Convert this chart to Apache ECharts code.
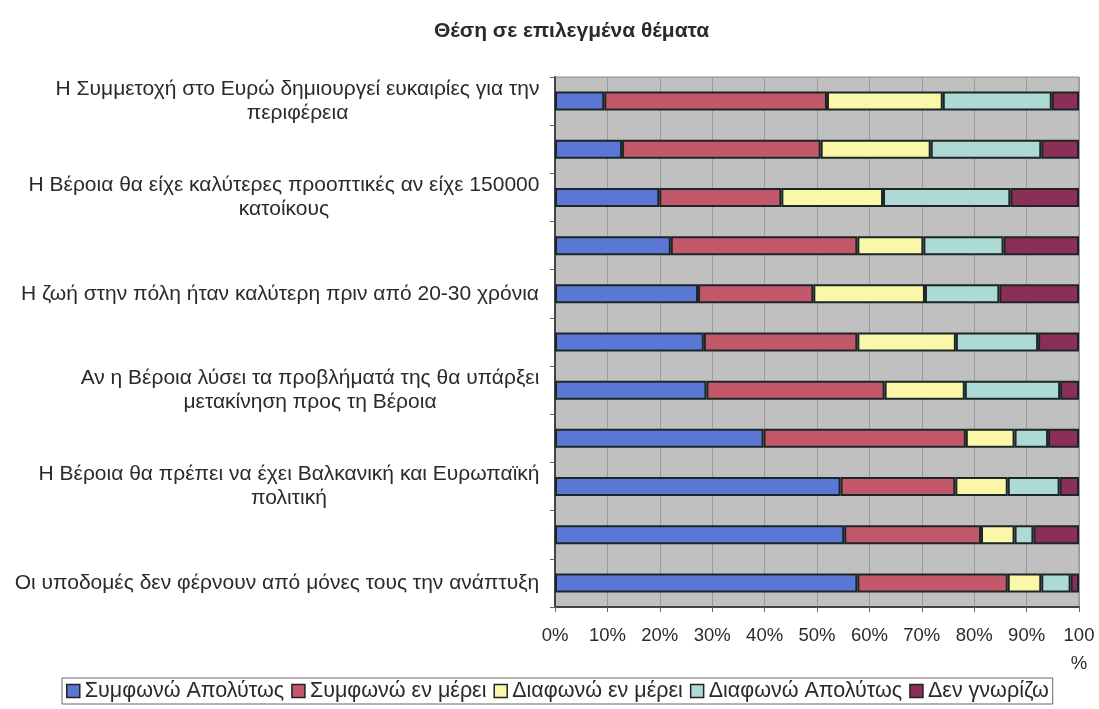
<!DOCTYPE html>
<html>
<head>
<meta charset="utf-8">
<script src="https://cdn.jsdelivr.net/npm/echarts@6/dist/echarts.min.js"></script>
<style>
  html, body { margin: 0; padding: 0; background: #fff; }
  #main { width: 1099px; height: 709px; }
</style>
</head>
<body>
<div id="main"></div>
<script>
// κατηγορίες (από πάνω προς τα κάτω) - οι μισές δεν έχουν ετικέτα στο πρωτότυπο
var categories = [
    'Η Συμμετοχή στο Ευρώ δημιουργεί ευκαιρίες για την\nπεριφέρεια',
    '',
    'Η Βέροια θα είχε καλύτερες προοπτικές αν είχε 150000\nκατοίκους',
    '',
    'Η ζωή στην πόλη ήταν καλύτερη πριν από 20-30 χρόνια',
    '',
    'Αν η Βέροια λύσει τα προβλήματά της θα υπάρξει\nμετακίνηση προς τη Βέροια',
    '',
    'Η Βέροια θα πρέπει να έχει Βαλκανική και Ευρωπαϊκή\nπολιτική',
    '',
    'Οι υποδομές δεν φέρνουν από μόνες τους την ανάπτυξη'
];
var seriesNames = ['Συμφωνώ Απολύτως', 'Συμφωνώ εν μέρει', 'Διαφωνώ εν μέρει', 'Διαφωνώ Απολύτως', 'Δεν γνωρίζω'];

// ποσοστά (%)
var symfonoApolytos = [9.4, 12.8, 19.9, 22.1, 27.3, 28.4, 28.9, 39.8, 54.5, 55.2, 57.7];
var symfonoEnMerei = [42.5, 37.9, 23.3, 35.6, 22.0, 29.3, 34.0, 38.6, 21.9, 26.1, 28.7];
var diafonoEnMerei = [22.1, 21.0, 19.4, 12.6, 21.3, 18.8, 15.3, 9.3, 10.0, 6.4, 6.4];
var diafonoApolytos = [20.8, 21.1, 24.3, 15.3, 14.2, 15.7, 18.2, 6.4, 9.9, 3.6, 5.6];
var denGnorizo = [5.2, 7.2, 13.1, 14.4, 15.2, 7.8, 3.6, 5.9, 3.7, 8.7, 1.6];

var colors = ['#5a77d6', '#c4586b', '#fbf7a8', '#aedad6', '#8c2f58'];
var FONT = 'Liberation Sans, Arial, sans-serif';
var LABEL_SIZE = 21;

// ετικέτες πολλών γραμμών: κεντραρισμένες γραμμές μέσα σε δεξιά στοιχισμένο μπλοκ
var ctx = document.createElement('canvas').getContext('2d');
ctx.font = LABEL_SIZE + 'px ' + FONT;
var rich = {};
categories.forEach(function (c, i) {
    var w = 0;
    c.split('\n').forEach(function (l) { w = Math.max(w, ctx.measureText(l).width); });
    rich['l' + i] = { width: Math.ceil(w) + 1, align: 'center', fontSize: LABEL_SIZE, lineHeight: 24, fontFamily: FONT, color: '#2a2a2a' };
});

var myChart = echarts.init(document.getElementById('main'));

var data = [symfonoApolytos, symfonoEnMerei, diafonoEnMerei, diafonoApolytos, denGnorizo];

var option = {
    animation: false,
    title: {
        text: 'Θέση σε επιλεγμένα θέματα',
        left: 429,
        top: 16,
        textStyle: { fontSize: 21, fontWeight: 'bold', fontFamily: FONT, color: '#2a2a2a' }
    },
    legend: {
        data: seriesNames,
        top: 678,
        left: 62,
        icon: 'rect',
        itemWidth: 13,
        itemHeight: 13,
        itemGap: 7,
        padding: [2, 4],
        borderColor: '#666',
        borderWidth: 1,
        textStyle: { fontSize: 21.5, fontFamily: FONT, color: '#2a2a2a' },
        itemStyle: { borderColor: '#222', borderWidth: 1.5 }
    },
    grid: {
        left: 555, right: 20, top: 77, bottom: 102,
        show: true,
        backgroundColor: '#c0c0c0',
        borderColor: '#8a8a8a',
        borderWidth: 1
    },
    xAxis: {
        type: 'value',
        min: 0, max: 100, interval: 10,
        axisLine: { show: true, lineStyle: { color: '#444', width: 2 } },
        axisTick: { show: true, length: 5, lineStyle: { color: '#666' } },
        splitLine: { show: true, lineStyle: { color: '#9a9a9a', width: 1 } },
        axisLabel: {
            margin: 15,
            fontSize: 18.5,
            lineHeight: 28,
            fontFamily: FONT,
            color: '#2a2a2a',
            formatter: function (v) { return v === 100 ? '100\n%' : v + '%'; }
        }
    },
    yAxis: {
        type: 'category',
        inverse: true,
        data: categories,
        axisLine: { show: true, lineStyle: { color: '#444', width: 2 } },
        axisTick: { show: true, length: 5, lineStyle: { color: '#666' } },
        splitLine: { show: false },
        axisLabel: {
            interval: 0,
            margin: 15,
            formatter: function (v, i) {
                if (!v) return '';
                return v.split('\n').map(function (l) { return '{l' + i + '|' + l + '}'; }).join('\n');
            },
            rich: rich
        }
    },
    series: seriesNames.map(function (name, k) {
        return {
            name: name,
            type: 'bar',
            stack: 'total',
            barWidth: 19,
            data: data[k],
            itemStyle: { color: colors[k], borderColor: '#1c2626', borderWidth: 2 }
        };
    })
};

myChart.setOption(option);
</script>
</body>
</html>
